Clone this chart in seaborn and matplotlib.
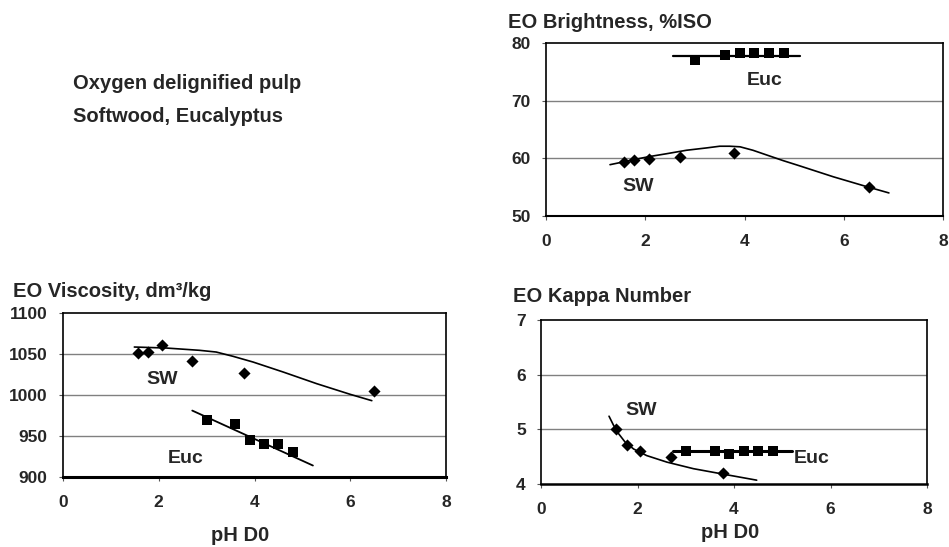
import matplotlib
matplotlib.use("Agg")
import matplotlib.pyplot as plt
import seaborn as sns
import numpy as np

# ---------------- data ----------------
# EO Brightness, %ISO
bright_sw_x = [1.57, 1.78, 2.08, 2.70, 3.79, 6.50]
bright_sw_y = [59.3, 59.7, 59.9, 60.3, 61.0, 55.0]
bright_euc_x = [3.0, 3.6, 3.9, 4.2, 4.5, 4.8]
bright_euc_y = [77.1, 78.0, 78.2, 78.2, 78.2, 78.2]
bright_sw_trend_x = [1.29, 1.57, 1.78, 2.08, 2.43, 2.83, 3.23, 3.50, 3.70, 3.91, 4.17, 4.44, 4.78, 5.11, 5.79, 6.46, 6.91]
bright_sw_trend_y = [58.9, 59.4, 59.8, 60.3, 60.8, 61.4, 61.8, 62.1, 62.1, 62.0, 61.4, 60.6, 59.6, 58.7, 56.8, 55.1, 54.0]
bright_euc_trend_x = [2.56, 5.11]
bright_euc_trend_y = [77.75, 77.75]

# EO Viscosity, dm3/kg
visc_sw_x = [1.56, 1.78, 2.06, 2.70, 3.79, 6.49]
visc_sw_y = [1051, 1052, 1061, 1042, 1027, 1005]
visc_euc_x = [3.0, 3.6, 3.9, 4.2, 4.5, 4.8]
visc_euc_y = [970, 965, 945, 940, 940, 930]
visc_sw_trend_x = [1.49, 2.15, 2.85, 3.20, 3.55, 3.97, 4.60, 5.30, 6.00, 6.45]
visc_sw_trend_y = [1058.5, 1057.3, 1054.5, 1052.4, 1047.2, 1040.2, 1028.0, 1013.8, 1000.8, 993.1]
visc_euc_trend_x = [2.70, 5.22]
visc_euc_trend_y = [981, 914]

# EO Kappa Number
kappa_sw_x = [1.56, 1.78, 2.06, 2.70, 3.78]
kappa_sw_y = [5.00, 4.71, 4.61, 4.50, 4.20]
kappa_euc_x = [3.0, 3.6, 3.9, 4.2, 4.5, 4.8]
kappa_euc_y = [4.60, 4.60, 4.55, 4.60, 4.60, 4.60]
kappa_sw_trend_x = [1.41, 1.50, 1.60, 1.74, 1.92, 2.19, 2.61, 3.16, 3.78, 4.47]
kappa_sw_trend_y = [5.24, 5.08, 4.93, 4.77, 4.64, 4.52, 4.40, 4.28, 4.18, 4.07]
kappa_euc_trend_x = [2.73, 5.20]
kappa_euc_trend_y = [4.60, 4.60]

x_ticks = [0, 2, 4, 6, 8]
bright_ticks = [50, 60, 70, 80]
visc_ticks = [900, 950, 1000, 1050, 1100]
kappa_ticks = [4, 5, 6, 7]

# ---------------- style ----------------
sns.set_style("white")
plt.rcParams['font.family'] = ['Liberation Sans', 'DejaVu Sans']
plt.rcParams['font.weight'] = 'bold'

W, H = 949, 547
fig = plt.figure(figsize=(W / 100, H / 100), dpi=100)
fig.patch.set_facecolor("white")


def ax_px(left, top, right, bottom):
    return fig.add_axes([left / W, 1 - bottom / H, (right - left) / W, (bottom - top) / H])


def txt_px(x, y, s, size=14.5, ha='left'):
    fig.text(x / W, 1 - y / H, s, fontsize=size, fontweight='bold', ha=ha, va='baseline')


def style_axes(ax, yticks, ylim, bottom_lw=2.0):
    ax.set_xlim(0, 8)
    ax.set_ylim(*ylim)
    ax.set_xticks(x_ticks)
    ax.set_yticks(yticks)
    ax.set_xticklabels([str(v) for v in x_ticks])
    ax.set_yticklabels([str(v) for v in yticks])
    for lab in ax.get_xticklabels() + ax.get_yticklabels():
        lab.set_fontweight('bold')
        lab.set_fontsize(12.5)
    ax.tick_params(axis='x', direction='out', length=3, width=0.8, color='#555555', pad=10, bottom=True)
    ax.tick_params(axis='y', direction='out', length=3, width=0.8, color='#555555', pad=8, left=True)
    for y in yticks[1:-1]:
        ax.axhline(y, color='#808080', lw=1.0, zorder=0)
    for name, sp in ax.spines.items():
        sp.set_visible(True)
        sp.set_color('black')
        sp.set_linewidth(1.2)
    ax.spines['bottom'].set_linewidth(bottom_lw)
    ax.set_xlabel("")
    ax.set_ylabel("")
    ax.grid(False)


def draw(ax, sw_x, sw_y, euc_x, euc_y, swt_x, swt_y, euct_x, euct_y, euc_lw):
    sns.lineplot(x=swt_x, y=swt_y, color='black', lw=1.2, sort=False, estimator=None, ax=ax)
    sns.lineplot(x=euct_x, y=euct_y, color='black', lw=euc_lw, sort=False, estimator=None, ax=ax)
    sns.scatterplot(x=sw_x, y=sw_y, marker='D', color='black', s=38, linewidth=0, ax=ax, zorder=5)
    sns.scatterplot(x=euc_x, y=euc_y, marker='s', color='black', s=55, linewidth=0, ax=ax, zorder=5)


# Brightness
ax1 = ax_px(546, 43, 943, 216)
draw(ax1, bright_sw_x, bright_sw_y, bright_euc_x, bright_euc_y,
     bright_sw_trend_x, bright_sw_trend_y, bright_euc_trend_x, bright_euc_trend_y, 1.6)
style_axes(ax1, bright_ticks, (50, 80), bottom_lw=1.5)
ax1.text(4.41, 73.5, "Euc", fontsize=14, fontweight='bold', ha='center', va='center')
ax1.text(1.86, 55.1, "SW", fontsize=14, fontweight='bold', ha='center', va='center')

# Viscosity
ax2 = ax_px(63, 313, 446, 477)
draw(ax2, visc_sw_x, visc_sw_y, visc_euc_x, visc_euc_y,
     visc_sw_trend_x, visc_sw_trend_y, visc_euc_trend_x, visc_euc_trend_y, 1.3)
style_axes(ax2, visc_ticks, (900, 1100), bottom_lw=2.2)
ax2.text(2.07, 1019, "SW", fontsize=14, fontweight='bold', ha='center', va='center')
ax2.text(2.56, 922, "Euc", fontsize=14, fontweight='bold', ha='center', va='center')

# Kappa
ax3 = ax_px(541, 320, 927, 484)
draw(ax3, kappa_sw_x, kappa_sw_y, kappa_euc_x, kappa_euc_y,
     kappa_sw_trend_x, kappa_sw_trend_y, kappa_euc_trend_x, kappa_euc_trend_y, 2.2)
style_axes(ax3, kappa_ticks, (4, 7), bottom_lw=1.8)
ax3.text(2.08, 5.34, "SW", fontsize=14, fontweight='bold', ha='center', va='center')
ax3.text(5.62, 4.47, "Euc", fontsize=14, fontweight='bold', ha='center', va='center')

# Texts
txt_px(73, 89, "Oxygen delignified pulp")
txt_px(73, 122, "Softwood, Eucalyptus")
txt_px(508, 28, "EO Brightness, %ISO")
txt_px(13, 297, "EO Viscosity, dm³/kg")
txt_px(513, 302, "EO Kappa Number")
txt_px(240, 541, "pH D0", ha='center')
txt_px(730, 538, "pH D0", ha='center')

fig.savefig("out.png", dpi=100, facecolor="white")
